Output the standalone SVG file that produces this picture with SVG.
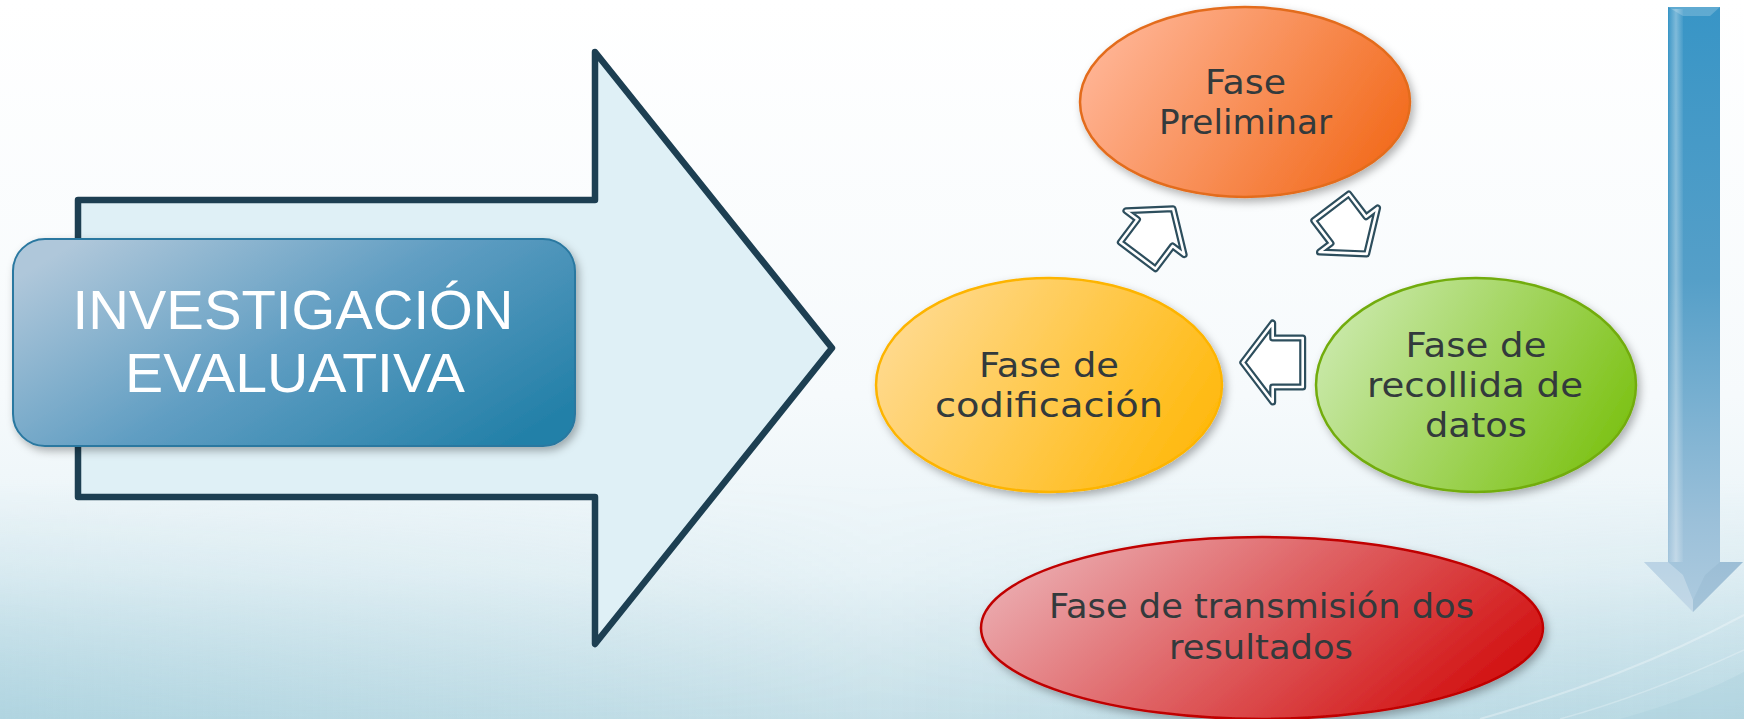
<svg xmlns="http://www.w3.org/2000/svg" width="1744" height="719" viewBox="0 0 1744 719">
<defs>
  <linearGradient id="bg" x1="0" y1="0" x2="0" y2="1">
    <stop offset="0" stop-color="#ffffff"/>
    <stop offset="0.55" stop-color="#f6fafc"/>
    <stop offset="0.8" stop-color="#e8f3f7"/>
    <stop offset="1" stop-color="#c8e1e9"/>
  </linearGradient>
  <linearGradient id="bgside" x1="0" y1="0" x2="1" y2="0">
    <stop offset="0" stop-color="#9ccad9" stop-opacity="0.55"/>
    <stop offset="0.5" stop-color="#9ccad9" stop-opacity="0.05"/>
    <stop offset="1" stop-color="#9ccad9" stop-opacity="0.35"/>
  </linearGradient>
  <linearGradient id="vfade" x1="0" y1="0" x2="0" y2="1">
    <stop offset="0" stop-color="#000000"/>
    <stop offset="1" stop-color="#ffffff"/>
  </linearGradient>
  <mask id="mBottom" maskUnits="userSpaceOnUse" x="0" y="480" width="1744" height="239">
    <rect x="0" y="480" width="1744" height="239" fill="url(#vfade)"/>
  </mask>
  <linearGradient id="gTitle" x1="0" y1="0.2" x2="1" y2="0.8">
    <stop offset="0" stop-color="#afc7da"/>
    <stop offset="0.5" stop-color="#5f9dc2"/>
    <stop offset="1" stop-color="#2380a8"/>
  </linearGradient>
  <linearGradient id="gOrange" x1="0" y1="0.3" x2="1" y2="0.7">
    <stop offset="0" stop-color="#ffb596"/>
    <stop offset="1" stop-color="#f26a1b"/>
  </linearGradient>
  <linearGradient id="gYellow" x1="0" y1="0.3" x2="1" y2="0.7">
    <stop offset="0" stop-color="#ffda90"/>
    <stop offset="1" stop-color="#ffb80a"/>
  </linearGradient>
  <linearGradient id="gGreen" x1="0" y1="0.3" x2="1" y2="0.7">
    <stop offset="0" stop-color="#cae9ab"/>
    <stop offset="1" stop-color="#7bc112"/>
  </linearGradient>
  <linearGradient id="gRed" x1="0" y1="0.3" x2="1" y2="0.7">
    <stop offset="0" stop-color="#ebacb0"/>
    <stop offset="1" stop-color="#d10c0c"/>
  </linearGradient>
  <linearGradient id="gDown" x1="0" y1="0" x2="0" y2="1">
    <stop offset="0" stop-color="#3895c6"/>
    <stop offset="0.45" stop-color="#559fc8"/>
    <stop offset="0.85" stop-color="#9bc0d9"/>
    <stop offset="1" stop-color="#aecbdf"/>
  </linearGradient>
  <linearGradient id="gBevel" x1="0" y1="0" x2="1" y2="0">
    <stop offset="0" stop-color="#ffffff" stop-opacity="0.05"/>
    <stop offset="0.5" stop-color="#ffffff" stop-opacity="0.35"/>
    <stop offset="1" stop-color="#ffffff" stop-opacity="0.05"/>
  </linearGradient>
  <filter id="shadow" x="-10%" y="-10%" width="125%" height="130%">
    <feDropShadow dx="3" dy="4" stdDeviation="4" flood-color="#000000" flood-opacity="0.3"/>
  </filter>
  <style>
    .lbl { font-family: "DejaVu Sans", "Liberation Sans", sans-serif; font-size: 33px; fill: #333a3c; text-anchor: middle; }
    .title { font-family: "Liberation Sans", "DejaVu Sans", sans-serif; font-size: 56px; fill: #ffffff; text-anchor: middle; }
    .ell { stroke-width: 2.5; filter: url(#shadow); }
    .sa-out { fill: #ffffff; stroke: #2d4e5d; stroke-width: 7; stroke-linejoin: round; }
    .sa-in { fill: none; stroke: #ffffff; stroke-width: 2.6; stroke-linejoin: round; }
  </style>
</defs>

<!-- background -->
<rect x="0" y="0" width="1744" height="719" fill="url(#bg)"/>
<rect x="0" y="480" width="1744" height="239" fill="url(#bgside)" mask="url(#mBottom)"/>
<path d="M1480,719 C1580,690 1660,660 1744,615" fill="none" stroke="#ffffff" stroke-opacity="0.3" stroke-width="2"/>
<path d="M1560,719 C1630,700 1690,675 1744,650" fill="none" stroke="#ffffff" stroke-opacity="0.25" stroke-width="1.5"/>
<path d="M1620,719 C1670,705 1710,690 1744,672 L1744,719 Z" fill="#a5cdd9" fill-opacity="0.3"/>

<!-- big arrow -->
<g id="big-arrow">
  <polygon points="78,200 595,200 595,52 832,348 595,644 595,497 78,497" fill="#dff0f6" stroke="#1d3f52" stroke-width="6.5" stroke-linejoin="round"/>
</g>

<!-- title node -->
<g id="node-investigacion">
  <rect x="13" y="239" width="562" height="207" rx="32" ry="32" fill="url(#gTitle)" stroke="#2a78a0" stroke-width="2" filter="url(#shadow)"/>
  <text class="title" x="293" y="329" textLength="441" lengthAdjust="spacingAndGlyphs">INVESTIGACIÓN</text>
  <text class="title" x="295" y="392" textLength="340" lengthAdjust="spacingAndGlyphs">EVALUATIVA</text>
</g>

<!-- vertical arrow -->
<g id="down-arrow">
  <path d="M1668,7 H1720 V562 H1743 L1693,612 L1644,562 H1668 Z" fill="url(#gDown)"/>
  <rect x="1669" y="9" width="14" height="553" fill="url(#gBevel)"/>
  <path d="M1668,7 H1720 L1710,16 H1683 Z" fill="#ffffff" fill-opacity="0.2"/>
  <path d="M1644,562 H1668 L1683,575 L1693,600 L1693,612 Z" fill="#ffffff" fill-opacity="0.25"/>
  <path d="M1743,562 H1720 L1705,575 L1693,600 L1693,612 Z" fill="#6f98b4" fill-opacity="0.15"/>
</g>

<!-- connectors -->
<g id="connectors">
  <g transform="translate(1137.9,255.5) rotate(-53)">
    <polygon class="sa-out" points="0,-22 28.5,-22 28.5,-36.5 58.5,0 28.5,36.5 28.5,22 0,22"/>
    <polygon class="sa-in" points="0,-22 28.5,-22 28.5,-36.5 58.5,0 28.5,36.5 28.5,22 0,22"/>
  </g>
  <g transform="translate(1331.3,207.3) rotate(52.8)">
    <polygon class="sa-out" points="0,-22 28.5,-22 28.5,-36.5 58.5,0 28.5,36.5 28.5,22 0,22"/>
    <polygon class="sa-in" points="0,-22 28.5,-22 28.5,-36.5 58.5,0 28.5,36.5 28.5,22 0,22"/>
  </g>
  <g transform="translate(1302.7,362.5) rotate(180)">
    <polygon class="sa-out" points="0,-24.5 30,-24.5 30,-39.5 60,0 30,39.5 30,24.5 0,24.5"/>
    <polygon class="sa-in" points="0,-24.5 30,-24.5 30,-39.5 60,0 30,39.5 30,24.5 0,24.5"/>
  </g>
</g>

<!-- phase nodes -->
<g id="node-preliminar">
  <ellipse class="ell" cx="1245" cy="102" rx="165" ry="95" fill="url(#gOrange)" stroke="#e36c1d"/>
  <text class="lbl" x="1245.5" y="94" textLength="81" lengthAdjust="spacingAndGlyphs">Fase</text>
  <text class="lbl" x="1245.5" y="134" textLength="173" lengthAdjust="spacingAndGlyphs">Preliminar</text>
</g>

<g id="node-codificacion">
  <ellipse class="ell" cx="1049" cy="385" rx="173" ry="107" fill="url(#gYellow)" stroke="#fdb400"/>
  <text class="lbl" x="1049" y="377" textLength="140" lengthAdjust="spacingAndGlyphs">Fase de</text>
  <text class="lbl" x="1049" y="417" textLength="228" lengthAdjust="spacingAndGlyphs">codificación</text>
</g>

<g id="node-recollida">
  <ellipse class="ell" cx="1476" cy="385" rx="160" ry="107" fill="url(#gGreen)" stroke="#72ac0c"/>
  <text class="lbl" x="1476" y="357" textLength="141" lengthAdjust="spacingAndGlyphs">Fase de</text>
  <text class="lbl" x="1475" y="397" textLength="216" lengthAdjust="spacingAndGlyphs">recollida de</text>
  <text class="lbl" x="1476" y="437" textLength="102" lengthAdjust="spacingAndGlyphs">datos</text>
</g>

<g id="node-transmision">
  <ellipse class="ell" cx="1262" cy="628" rx="281" ry="91" fill="url(#gRed)" stroke="#c00000"/>
  <text class="lbl" x="1261.5" y="618" textLength="425" lengthAdjust="spacingAndGlyphs">Fase de transmisión dos</text>
  <text class="lbl" x="1261" y="659" textLength="184" lengthAdjust="spacingAndGlyphs">resultados</text>
</g>
</svg>
